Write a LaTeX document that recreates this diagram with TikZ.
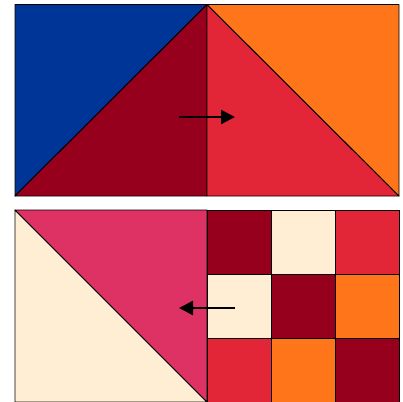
\documentclass[tikz,border=0pt]{standalone}
\usetikzlibrary{arrows.meta}
\definecolor{qblue}{RGB}{0,53,152}
\definecolor{qdark}{RGB}{150,0,28}
\definecolor{qred}{RGB}{226,38,56}
\definecolor{qorange}{RGB}{255,118,26}
\definecolor{qpink}{RGB}{222,50,100}
\definecolor{qcream}{RGB}{255,238,212}
\tikzset{
  patch/.style={draw=black, line width=0.9pt, line join=round},
  movearrow/.style={line width=2.4pt, -{Triangle[length=14pt,width=14pt]}}
}
\begin{document}
\begin{tikzpicture}[x=1pt,y=-1pt]
\useasboundingbox (0,0) rectangle (403,401);
\clip (0,0) rectangle (403,401);
% top panel
\fill[white] (0,0) rectangle (403,401);
\filldraw[patch, fill=qblue] (15,4.5) -- (207,4.5) -- (15,196) -- cycle;
\filldraw[patch, fill=qdark] (15,196) -- (207,4.5) -- (207,196) -- cycle;
\filldraw[patch, fill=qred] (207,4.5) -- (399,196) -- (207,196) -- cycle;
\filldraw[patch, fill=qorange] (207,4.5) -- (399,4.5) -- (399,196) -- cycle;
% bottom panel
\filldraw[patch, fill=qcream] (15,210) -- (207,402) -- (15,402) -- cycle;
\filldraw[patch, fill=qpink] (15,210) -- (207,210) -- (207,402) -- cycle;
\foreach \c [count=\i from 0] in {qdark,qcream,qred,qcream,qdark,qorange,qred,qorange,qdark}{
  \pgfmathtruncatemacro{\col}{mod(\i,3)}
  \pgfmathtruncatemacro{\row}{div(\i,3)}
  \filldraw[patch, fill=\c] (207+64*\col,210+64*\row) rectangle ++(64,64);
}
% arrows
\coordinate (a1s) at (179,117);
\coordinate (a1e) at (235,117);
\coordinate (a2s) at (235,308);
\coordinate (a2e) at (179,308);
\draw[movearrow] (a1s) -- (a1e);
\draw[movearrow] (a2s) -- (a2e);
\end{tikzpicture}
\end{document}
